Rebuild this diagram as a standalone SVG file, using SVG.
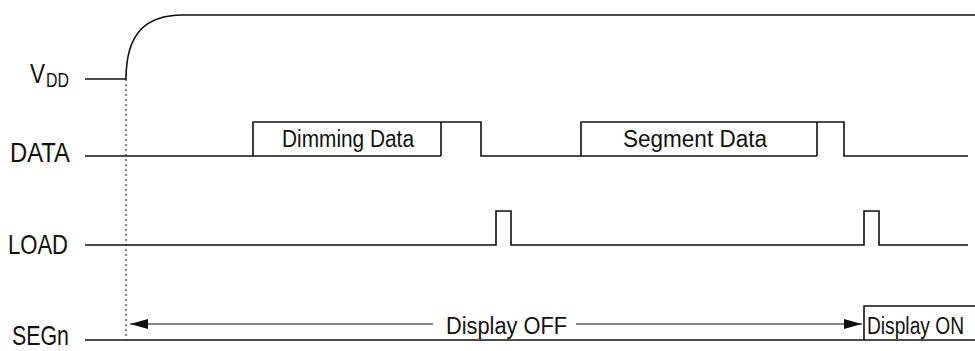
<svg xmlns="http://www.w3.org/2000/svg" width="975" height="351" viewBox="0 0 975 351">
  <defs>
    <style>
      .w { fill: none; stroke: #111; stroke-width: 1.6; }
      .t { font-family: "Liberation Sans Narrow", "Liberation Sans", Arial, sans-serif; fill: #111; }
      .lbl { font-size: 28px; }
      .sub { font-size: 20px; }
      .in { font-size: 23px; }
    </style>
    <marker id="ah" viewBox="0 0 18 10" refX="18" refY="5" markerWidth="18" markerHeight="10" markerUnits="userSpaceOnUse" orient="auto">
      <path d="M0,0 L18,5 L0,10 Z" fill="#111"/>
    </marker>
  </defs>
  <rect width="975" height="351" fill="#fff"/>

  <g id="vdd">
    <text class="t lbl" x="30" y="83" textLength="15" lengthAdjust="spacingAndGlyphs">V</text>
    <text class="t sub" x="46" y="87" textLength="23" lengthAdjust="spacingAndGlyphs">DD</text>
    <path class="w" d="M85,79 H126 C126,33 146,15 183,15 H975"/>
  </g>

  <g id="data">
    <text class="t lbl" x="10" y="162" textLength="60" lengthAdjust="spacingAndGlyphs">DATA</text>
    <path class="w" d="M85,156 H253 V122 H441 V156 M441,122 H481 V156 H581 V122 H817 V156 M817,122 H844 V156 H968"/>
    <path class="w" d="M253,156 H441"/>
    <path class="w" d="M581,156 H817"/>
    <text class="t in" x="282" y="147" textLength="132" lengthAdjust="spacingAndGlyphs">Dimming Data</text>
    <text class="t in" x="623" y="147" textLength="144" lengthAdjust="spacingAndGlyphs">Segment Data</text>
  </g>

  <g id="load">
    <text class="t lbl" x="8" y="254" textLength="60" lengthAdjust="spacingAndGlyphs">LOAD</text>
    <path class="w" d="M85,245 H496 V211 H511 V245 H864 V211 H879 V245 H968"/>
  </g>

  <g id="segn">
    <text class="t lbl" x="12" y="345" textLength="57" lengthAdjust="spacingAndGlyphs">SEGn</text>
    <path class="w" d="M85,340 H975"/>
    <path class="w" d="M864,340 V306 H975"/>
    <text class="t in" x="867" y="334" textLength="97" lengthAdjust="spacingAndGlyphs">Display ON</text>
    <text class="t in" x="446" y="334" textLength="121" lengthAdjust="spacingAndGlyphs">Display OFF</text>
  </g>

  <g id="connectors">
    <path d="M126,79 V340" fill="none" stroke="#111" stroke-width="1" stroke-dasharray="2,3"/>
    <path d="M433,324 H130" fill="none" stroke="#111" stroke-width="1.2" marker-end="url(#ah)"/>
    <path d="M576,324 H862" fill="none" stroke="#111" stroke-width="1.2" marker-end="url(#ah)"/>
  </g>
</svg>
